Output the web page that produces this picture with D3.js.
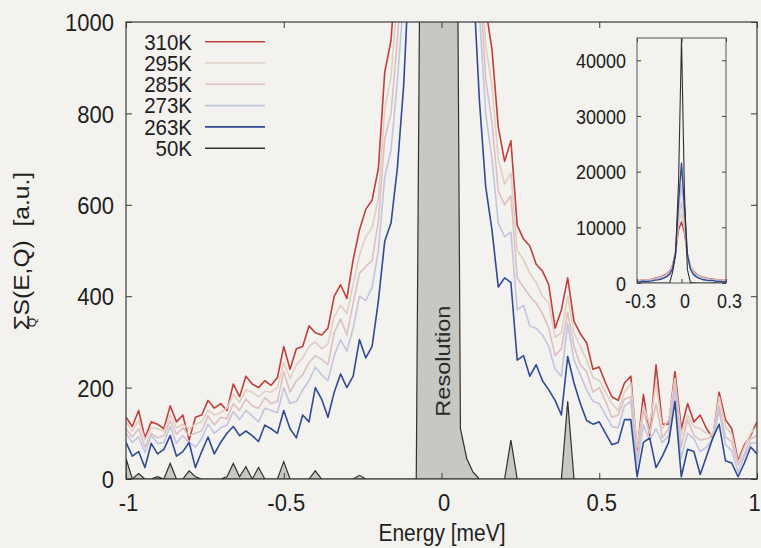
<!DOCTYPE html>
<html>
<head>
<meta charset="utf-8">
<script src="https://cdn.jsdelivr.net/npm/d3@7"></script>
<style>
body { margin: 0; background: #f3f2ee; }
svg { display: block; font-family: "Liberation Sans", Arial, sans-serif; }
</style>
</head>
<body>
<svg id="chart"></svg>
<script>
// energy grid, meV
const energy = d3.range(101).map(i => Math.round((-1 + 0.02 * i) * 100) / 100);

const t310 = [135,115,150,90,125,120,110,160,125,140,
  85,135,140,172,155,165,150,208,180,225,
  208,200,215,205,222,290,240,285,290,335,
  320,315,330,400,425,395,480,545,590,610,
  680,890,960,1150,1350,1650,2200,3200,5500,9500,
  11000,9000,5000,3000,2100,1600,1300,1030,940,770,
  695,740,555,525,510,470,455,425,330,370,
  440,345,318,298,240,245,210,180,172,210,
  225,60,185,95,250,120,120,235,110,165,
  125,140,110,90,190,130,110,40,75,95,
  125];
const t295 = [125,105,128,85,112,110,105,140,112,120,
  110,120,125,150,140,145,155,185,168,195,
  190,180,192,190,200,255,220,250,265,290,
  300,285,295,355,380,362,425,490,530,550,
  615,810,880,1055,1250,1550,2080,3080,5500,10500,
  12500,9800,5050,2900,1990,1500,1200,950,860,700,
  645,670,500,480,450,430,400,385,310,320,
  400,320,290,260,222,215,190,165,150,190,
  210,70,160,120,210,110,130,220,95,140,
  115,110,100,95,180,115,98,35,70,100,
  115];
const t285 = [110,92,110,70,100,90,95,128,98,112,
  95,100,105,138,118,135,132,165,150,175,
  160,155,178,165,170,235,190,215,228,255,
  270,262,250,320,350,315,385,450,465,478,
  565,745,800,960,1150,1450,1960,2960,5500,11500,
  14500,10800,5100,2800,1880,1400,1110,875,780,630,
  600,620,440,420,400,385,362,330,270,285,
  365,290,250,235,190,200,170,135,140,175,
  180,45,150,100,165,90,110,205,70,130,
  95,85,88,92,160,92,82,30,55,88,
  95];
const t273 = [100,80,92,58,95,78,80,115,78,95,
  80,70,88,120,100,112,118,148,130,150,
  138,125,155,150,145,200,165,170,195,215,
  245,228,215,270,305,280,330,400,390,420,
  500,660,720,870,1050,1350,1840,2840,5500,12800,
  17500,12000,5150,2700,1770,1300,1020,800,700,560,
  530,540,370,380,335,330,315,290,240,225,
  340,260,228,195,170,165,140,115,112,160,
  170,30,118,85,110,80,95,195,45,100,
  88,60,70,88,150,75,62,15,50,78,
  80];
const t263 = [80,50,60,25,78,55,65,95,50,60,
  80,25,60,92,55,80,100,115,95,105,
  95,82,118,110,100,150,110,90,140,125,
  200,175,135,190,230,200,225,305,265,290,
  390,520,560,680,860,1150,1600,2600,5500,14500,
  21500,13500,5200,2500,1550,1100,830,640,545,420,
  440,430,260,270,225,250,215,195,172,140,
  268,210,165,128,120,125,100,75,80,130,
  130,5,80,90,25,50,80,170,5,65,
  60,10,50,90,120,40,35,5,35,70,
  55];
const t50 = [45,0,12,0,0,5,0,34,0,0,
  18,5,0,0,0,0,5,34,5,27,
  0,25,0,0,0,38,0,0,0,0,
  18,0,0,0,0,0,0,8,0,0,
  0,0,0,0,0,0,0,2000,5000,18000,
  44000,16000,2400,110,45,15,0,0,0,0,
  0,85,0,0,0,0,0,0,0,0,
  170,0,0,0,0,0,0,0,0,0,
  0,0,0,0,0,0,0,0,0,0,
  0,0,0,0,0,0,0,0,0,0,
  0];

const seriesNames = ["310K", "295K", "285K", "273K", "263K", "50K"];
const seriesColors = ["#bf3f3a", "#e0cfc3", "#ddbfc3", "#c2c5de", "#2f4a95", "#303030"];
const series = [t310, t295, t285, t273, t263, t50];

const xTicks = [-1, -0.5, 0, 0.5, 1];
const yTicks = [0, 200, 400, 600, 800, 1000];
const insetXTicks = [-0.3, 0, 0.3];
const insetYTicks = [0, 10000, 20000, 30000, 40000];

const svg_width = 761, svg_height = 548;
const stretch = 1.12; // the scan is a bit taller than wide
const frameColor = "#3a3a3a";

const svg = d3.select("#chart")
  .attr("width", svg_width)
  .attr("height", svg_height);

svg.append("rect").attr("width", svg_width).attr("height", svg_height).attr("fill", "#f3f2ee");

const x = d3.scaleLinear().domain([-1, 1]).range([126, 757]);
const y = d3.scaleLinear().domain([0, 1000]).range([479, 22]);

const pts = s => energy.map((e, i) => [e, s[i]]);

const defs = svg.append("defs");
defs.append("clipPath").attr("id", "clip-main")
  .append("rect").attr("x", 126).attr("y", 22).attr("width", 631).attr("height", 457);

const plot = svg.append("g").attr("clip-path", "url(#clip-main)");

// resolution (50K) filled
const area = d3.area().x(d => x(d[0])).y0(y(0)).y1(d => y(d[1]));
const line = d3.line().x(d => x(d[0])).y(d => y(d[1]));

plot.append("path")
  .datum(pts(t50))
  .attr("d", area)
  .attr("fill", "#c8c8c3")
  .attr("stroke", seriesColors[5])
  .attr("stroke-width", 1.2);

series.slice(0, 5).forEach((s, k) => {
  plot.append("path")
    .datum(pts(s))
    .attr("d", line)
    .attr("fill", "none")
    .attr("stroke", seriesColors[k])
    .attr("stroke-width", 1.6)
    .attr("stroke-linejoin", "round");
});

svg.append("text")
  .attr("transform", `translate(${x(0) + 8},${y(258)}) scale(1,${stretch}) rotate(-90)`)
  .attr("text-anchor", "middle")
  .attr("font-size", 21)
  .attr("fill", "#2a2a2a")
  .text("Resolution");

// axes with inward ticks, mirrored on top/right
function styleAxis(g) {
  g.select(".domain").remove();
  g.selectAll(".tick line").attr("stroke", frameColor).attr("stroke-width", 1);
  g.attr("font-family", null).attr("font-size", null);
  g.selectAll("text").attr("fill", "#1e1e1e");
}

const fmt = d => String(d);

svg.append("g")
  .attr("transform", "translate(0,479)")
  .call(d3.axisBottom(x).tickValues(xTicks).tickSize(-6).tickFormat(fmt))
  .call(styleAxis)
  .call(g => g.selectAll("text")
    .attr("font-size", 22).attr("dy", null)
    .attr("dx", d => d === 1 ? -3 : 2)
    .attr("y", 32 / stretch).attr("transform", `scale(1,${stretch})`));

svg.append("g")
  .attr("transform", "translate(0,22)")
  .call(d3.axisTop(x).tickValues(xTicks).tickSize(-6).tickFormat(""))
  .call(styleAxis);

svg.append("g")
  .attr("transform", "translate(126,0)")
  .call(d3.axisLeft(y).tickValues(yTicks).tickSize(-6).tickPadding(12).tickFormat(fmt))
  .call(styleAxis)
  .call(g => g.selectAll("text")
    .attr("font-size", 22).attr("dy", null)
    .attr("y", 7.8).attr("transform", `scale(1,${stretch})`));

svg.append("g")
  .attr("transform", "translate(757,0)")
  .call(d3.axisRight(y).tickValues(yTicks).tickSize(-6).tickFormat(""))
  .call(styleAxis);

svg.append("rect")
  .attr("x", 126).attr("y", 22).attr("width", 631).attr("height", 457)
  .attr("fill", "none").attr("stroke", frameColor).attr("stroke-width", 1.2);

// axis titles
svg.append("text")
  .attr("transform", `translate(442,541) scale(1,${stretch})`)
  .attr("text-anchor", "middle")
  .attr("font-size", 21)
  .attr("fill", "#1e1e1e")
  .text("Energy [meV]");

const ytitle = svg.append("text")
  .attr("transform", `translate(29,251) scale(1,${stretch}) rotate(-90)`)
  .attr("text-anchor", "middle")
  .attr("font-size", 22)
  .attr("fill", "#1e1e1e");
ytitle.append("tspan").text("Σ");
ytitle.append("tspan").attr("font-size", 11).attr("dx", -11).attr("dy", 7).text("Q");
ytitle.append("tspan").attr("dx", 2).attr("dy", -7).text("S(E,Q)\u00a0\u00a0[a.u.]");

// legend
const legend = svg.append("g");
seriesNames.forEach((name, k) => {
  const cy = 41.7 + k * 21.3;
  legend.append("text")
    .attr("transform", `translate(192,${cy + 7.8}) scale(1,1.06)`)
    .attr("text-anchor", "end")
    .attr("font-size", 20.5)
    .attr("fill", "#1e1e1e")
    .text(name);
  legend.append("line")
    .attr("x1", 205).attr("x2", 265)
    .attr("y1", cy).attr("y2", cy)
    .attr("stroke", seriesColors[k])
    .attr("stroke-width", 1.6);
});

// inset, full height of the elastic peak
const xIn = d3.scaleLinear().domain([-0.3, 0.3]).range([637, 726]);
const yIn = d3.scaleLinear().domain([0, 44000]).range([283, 38]);

defs.append("clipPath").attr("id", "clip-inset")
  .append("rect").attr("x", 637).attr("y", 38).attr("width", 89).attr("height", 245);

const inset = svg.append("g").attr("clip-path", "url(#clip-inset)");
const lineIn = d3.line().x(d => xIn(d[0])).y(d => yIn(d[1]));

series.forEach((s, k) => {
  inset.append("path")
    .datum(pts(s).filter(d => Math.abs(d[0]) <= 0.32))
    .attr("d", lineIn)
    .attr("fill", "none")
    .attr("stroke", seriesColors[k])
    .attr("stroke-width", k === 5 ? 1.1 : 1.4)
    .attr("stroke-linejoin", "round");
});

svg.append("g")
  .attr("transform", "translate(637,0)")
  .call(d3.axisLeft(yIn).tickValues(insetYTicks).tickSize(-4).tickPadding(11).tickFormat(fmt))
  .call(styleAxis)
  .call(g => g.selectAll("text")
    .attr("font-size", 18).attr("dy", null)
    .attr("y", 6.4).attr("transform", `scale(1,${stretch})`));

svg.append("g")
  .attr("transform", "translate(726,0)")
  .call(d3.axisRight(yIn).tickValues(insetYTicks).tickSize(-4).tickFormat(""))
  .call(styleAxis);

svg.append("g")
  .attr("transform", "translate(0,283)")
  .call(d3.axisBottom(xIn).tickValues(insetXTicks).tickSize(-4).tickFormat(fmt))
  .call(styleAxis)
  .call(g => g.selectAll("text")
    .attr("font-size", 18).attr("dy", null).attr("dx", 3)
    .attr("y", 25 / stretch).attr("transform", `scale(1,${stretch})`));

svg.append("g")
  .attr("transform", "translate(0,38)")
  .call(d3.axisTop(xIn).tickValues(insetXTicks).tickSize(-4).tickFormat(""))
  .call(styleAxis);

svg.append("rect")
  .attr("x", 637).attr("y", 38).attr("width", 89).attr("height", 245)
  .attr("fill", "none").attr("stroke", "#555").attr("stroke-width", 1);
</script>
</body>
</html>
